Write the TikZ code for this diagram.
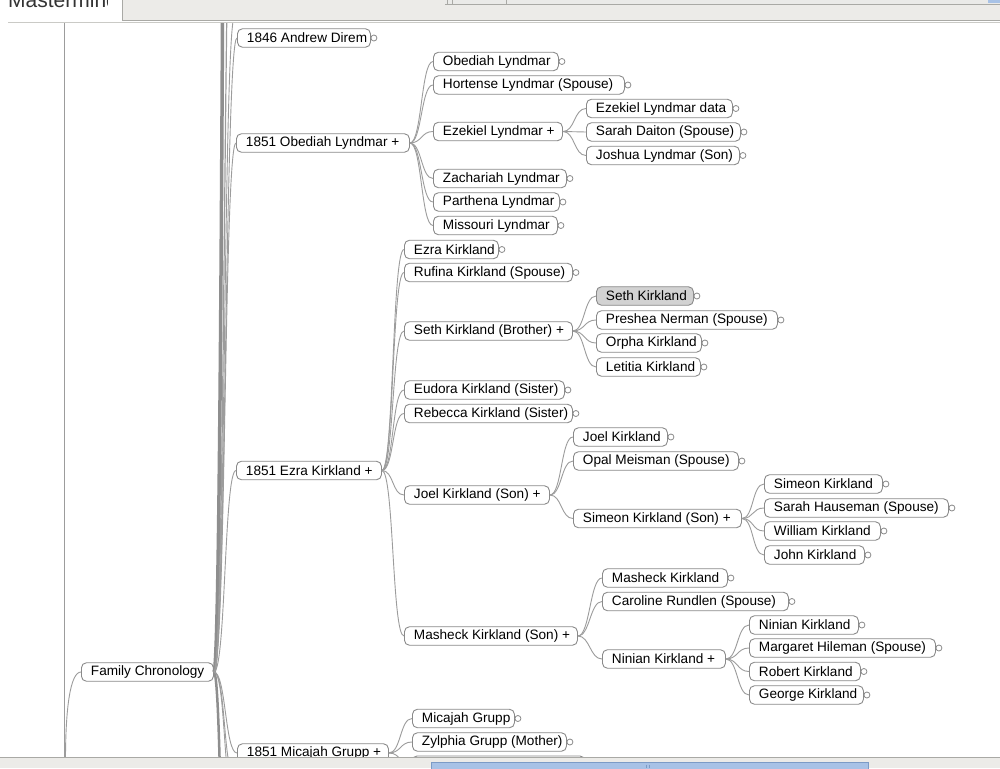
\documentclass[tikz,border=0pt]{standalone}
\usepackage{fontspec}
\setmainfont{Liberation Sans}
\definecolor{chrome}{HTML}{ECEBE8}
\definecolor{chromeline}{HTML}{A9A9A5}
\definecolor{chromelight}{HTML}{CACAC6}
\definecolor{nodeborder}{HTML}{8A8A8A}
\definecolor{linkcol}{HTML}{9C9C9C}
\definecolor{trunkcol}{HTML}{8E8E8E}
\definecolor{selfill}{HTML}{D2D2D2}
\definecolor{barblue}{HTML}{A8C2E6}
\definecolor{barblueline}{HTML}{7C9BC6}
\newcommand\mmfont{\fontsize{13.6}{16}\selectfont}
\newcommand\MN[6][]{\pgfmathsetmacro\mmw{#4-#3}\node[mmnode,#1] (#2) at (#3,#5) {\makebox[\mmw pt][l]{\hspace{9.5pt}#6}};}
\newcommand\LF[6][]{\MN[#1]{#2}{#3}{#4}{#5}{#6}\draw[foldc] ([xshift=3pt]#2.east) circle[radius=3pt];}
\newcommand\LK[2]{\draw[link] (#1.east) .. controls +(12,0) and +(-12,0) .. (#2.west);}
\newcommand\LC[3][link]{\draw[#1] (#2.east) .. controls +(12,0) and +(-12,0) .. (#3);}
\begin{document}
\begin{tikzpicture}[x=1pt,y=-1pt,
  mmnode/.style={draw=nodeborder, fill=white, rounded corners=5pt, anchor=west,
    minimum height=18.5pt, inner xsep=0pt, inner ysep=0pt, line width=0.9pt,
    font=\mmfont, text=black},
  selnode/.style={fill=selfill},
  link/.style={draw=linkcol, line width=0.9pt},
  trunk/.style={draw=trunkcol, line width=3.5pt},
  foldc/.style={draw=nodeborder, fill=white, line width=0.8pt}]
\useasboundingbox (0,0) rectangle (1000,768);
\fill[white] (0,0) rectangle (1000,768);

% ---------- top chrome ----------
\fill[chrome] (122,0) rectangle (1000,20.5);
\fill[chromelight!40] (445,0) rectangle (1000,4);
\draw[chromeline] (445,4) -- (1000,4);
\draw[chromeline] (447.5,0) -- (447.5,4) (452.5,0) -- (452.5,4) (506.5,0) -- (506.5,4);
\fill[barblue] (988,0) rectangle (1000,3.5);
\draw[chromeline] (122.5,0) -- (122.5,20.5) -- (1000,20.5);
\draw[chromelight] (8,22.5) -- (1000,22.5);
\begin{scope}
  \clip (0,0) rectangle (107,12);
  \node[anchor=base west, inner sep=0pt, font=\fontsize{21}{21}\selectfont, text=black!80] (tabtext) at (8,7.5) {Mastermind};
\end{scope}

% ---------- mind map ----------
\begin{scope}
\clip (0,24) rectangle (1000,757.5);

\MN{FC}{81}{213}{672}{Family Chronology}
\LF{A}{237}{370}{38}{1846 Andrew Direm}
\MN{O}{236}{409}{143}{1851 Obediah Lyndmar +}
\MN{E}{236}{381}{470.5}{1851 Ezra Kirkland +}
\MN{M}{237}{388}{753}{1851 Micajah Grupp +}

\LF{O1}{433}{558}{61.5}{Obediah Lyndmar}
\LF{O2}{433}{624}{85}{Hortense Lyndmar (Spouse)}
\MN{O3}{433}{562}{131.5}{Ezekiel Lyndmar +}
\LF{O4}{433}{566}{178.5}{Zachariah Lyndmar}
\LF{O5}{433}{559}{202}{Parthena Lyndmar}
\LF{O6}{433}{557}{225.5}{Missouri Lyndmar}

\LF{O31}{586}{732}{108.5}{Ezekiel Lyndmar data}
\LF{O32}{586}{740}{132}{Sarah Daiton (Spouse)}
\LF{O33}{586}{739}{155.5}{Joshua Lyndmar (Son)}

\LF{E1}{404}{498}{249.5}{Ezra Kirkland}
\LF{E2}{404}{572}{272.5}{Rufina Kirkland (Spouse)}
\MN{E3}{404}{572}{331}{Seth Kirkland (Brother) +}
\LF{E4}{404}{564}{390}{Eudora Kirkland (Sister)}
\LF{E5}{404}{572}{413.5}{Rebecca Kirkland (Sister)}
\MN{E6}{404}{549}{495}{Joel Kirkland (Son) +}
\MN{E7}{404}{577}{636}{Masheck Kirkland (Son) +}

\LF[selnode]{S1}{596}{693}{296}{Seth Kirkland}
\LF{S2}{596}{777}{320}{Preshea Nerman (Spouse)}
\LF{S3}{596}{701}{343}{Orpha Kirkland}
\LF{S4}{596}{700}{367}{Letitia Kirkland}

\LF{J1}{573}{667}{437}{Joel Kirkland}
\LF{J2}{573}{738}{461}{Opal Meisman (Spouse)}
\MN{J3}{573}{741}{518.5}{Simeon Kirkland (Son) +}

\LF{J31}{764}{882}{484}{Simeon Kirkland}
\LF{J32}{764}{948}{508}{Sarah Hauseman (Spouse)}
\LF{J33}{764}{880}{531}{William Kirkland}
\LF{J34}{764}{864}{555}{John Kirkland}

\LF{K1}{602}{727}{578}{Masheck Kirkland}
\LF{K2}{602}{788}{601.5}{Caroline Rundlen (Spouse)}
\MN{K3}{602}{725}{659}{Ninian Kirkland +}

\LF{N1}{749}{858}{625}{Ninian Kirkland}
\LF{N2}{749}{935}{648}{Margaret Hileman (Spouse)}
\LF{N3}{749}{860}{671.5}{Robert Kirkland}
\LF{N4}{749}{863}{695}{George Kirkland}

\LF{G1}{412}{514}{718.5}{Micajah Grupp}
\LF{G2}{412}{566}{742}{Zylphia Grupp (Mother)}
\draw[nodeborder, fill=white, rounded corners=5pt, line width=0.9pt] (412,756) rectangle (585,775);
\coordinate (G3) at (412,765.5);

% off-screen relatives
\coordinate (fcU1) at (235,14.5);
\coordinate (fcU3) at (235,-220);
\coordinate (fcU4) at (235,-1500);
\coordinate (fcD1) at (235,776);
\coordinate (fcD2) at (235,800);
\coordinate (fcD3) at (235,1500);
\coordinate (gpT) at (64.5,20);
\coordinate (gpB) at (64.5,760);
\coordinate (gpC) at (65.5,760);

% connectors
\draw[link] (gpT) -- (gpB);
\draw[link] (FC.west) .. controls +(-11,0) and +(0,-50) .. (gpC);
\LC[trunk]{FC}{fcU4}
\LC[trunk, line width=2.5pt]{FC}{fcD3}
\LC{FC}{fcU1}
\LC[link, line width=1.2pt]{FC}{fcU3}
\LC{FC}{fcD1}
\LC{FC}{fcD2}
\LK{FC}{A}
\LK{FC}{O}
\LK{FC}{E}
\LK{FC}{M}

\LK{O}{O1}\LK{O}{O2}\LK{O}{O3}\LK{O}{O4}\LK{O}{O5}\LK{O}{O6}
\LK{O3}{O31}\LK{O3}{O32}\LK{O3}{O33}
\LK{E}{E1}\LK{E}{E2}\LK{E}{E3}\LK{E}{E4}\LK{E}{E5}\LK{E}{E6}\LK{E}{E7}
\LK{E3}{S1}\LK{E3}{S2}\LK{E3}{S3}\LK{E3}{S4}
\LK{E6}{J1}\LK{E6}{J2}\LK{E6}{J3}
\LK{J3}{J31}\LK{J3}{J32}\LK{J3}{J33}\LK{J3}{J34}
\LK{E7}{K1}\LK{E7}{K2}\LK{E7}{K3}
\LK{K3}{N1}\LK{K3}{N2}\LK{K3}{N3}\LK{K3}{N4}
\LK{M}{G1}\LK{M}{G2}
\LC{M}{G3}
\end{scope}

% ---------- bottom chrome ----------
\fill[chrome] (0,757) rectangle (1000,768);
\draw[chromeline] (0,757) -- (1000,757);
\draw[barblueline, fill=barblue] (431,762) rectangle (868,770);
\draw[barblueline] (646.5,764.5) -- (646.5,768) (649.5,764.5) -- (649.5,768);
\end{tikzpicture}
\end{document}
